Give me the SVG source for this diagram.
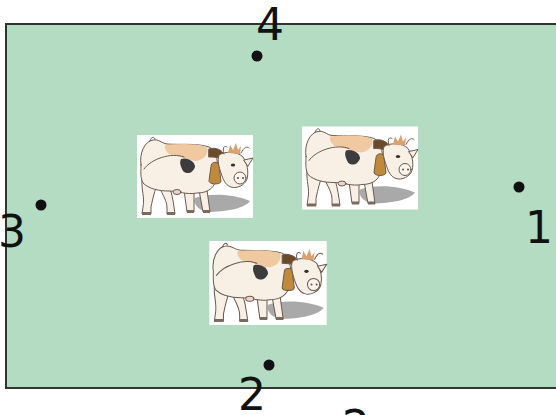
<svg xmlns="http://www.w3.org/2000/svg" xmlns:xlink="http://www.w3.org/1999/xlink" width="556" height="415" viewBox="0 0 556 415">
<style>
.lbl{font-family:"DejaVu Sans","Liberation Sans",sans-serif;font-size:44px;fill:#111;text-anchor:middle}
.dot{fill:#111}
.ol{stroke:#6b5a50;stroke-width:1;stroke-linejoin:round;stroke-linecap:round}
.body{fill:#f8f0e4}
</style>
<defs>
<symbol id="cow" viewBox="0 0 116 83" overflow="visible">
<rect x="0" y="0" width="116" height="83" fill="#ffffff"/>
<path d="M58,63 C75,57 100,60 113,66 C108,73 90,77 70,77 C61,75 56,69 58,63 Z" fill="#a9a9a9"/>
<path class="ol body" d="M5,44 C4,55 8,62 6,72 L5,79 L14,79 L14,72 C16,62 18,55 20,50 Z"/>
<path class="ol body" d="M22,52 C26,60 30,66 30,73 L30,79 L38,79 L37,72 C36,64 34,56 32,50 Z"/>
<path class="ol body" d="M47,55 L50,77 L57,77 L57,57 Z"/>
<path class="ol body" d="M62,55 L66,77 L73,77 L70,55 Z"/>
<path fill="#7a6a60" d="M5,77 L14,77 L14,80 L5,80 Z M30,77 L38,77 L38,80 L30,80 Z M50,75 L57,75 L57,78 L50,78 Z M66,75 L73,75 L73,78 L66,78 Z"/>
<path class="ol body" d="M4,30 C2,18 8,6 16,5 C22,4 24,8 30,9 C45,10 60,8 72,12 C80,15 82,30 80,42 C78,52 72,58 60,58 C50,60 40,56 32,56 C22,56 12,54 6,48 C3,42 4,36 4,30 Z"/>
<path fill="#f0c9a0" d="M28,10 C42,9 58,8 70,12 C72,18 68,24 60,26 C50,26 44,20 34,20 C30,18 27,14 28,10 Z"/>
<path fill="#3c3c3c" d="M44,24 C50,22 58,26 58,32 C56,38 50,40 46,36 C44,32 42,28 44,24 Z"/>
<path class="ol" fill="none" d="M7,34 C14,24 34,17 47,22"/>
<path class="ol" fill="none" d="M13,6 C14,2 17,1 18,4"/>
<ellipse cx="40" cy="57" rx="4" ry="2.5" fill="#f3d2c6" class="ol"/>
<path class="ol" fill="#6b4a2a" d="M72,14 C76,12 84,14 86,18 L84,24 C80,22 76,22 72,22 Z"/>
<path class="ol" fill="#c08a3a" d="M74,31 C74,26 82,26 82,31 L84,46 C84,50 72,50 72,46 Z"/>
<path class="ol body" d="M82,20 C88,16 100,16 106,22 C110,28 112,36 110,44 C108,50 100,54 94,52 C88,50 86,44 84,38 C82,32 80,26 82,20 Z"/>
<path class="ol body" d="M107,25 L116,23 L111,31 Z"/>
<path class="ol" fill="none" d="M87,19 C85,13 87,10 90,12 M104,18 C107,12 110,11 112,13"/>
<path fill="#d9a070" d="M91,18 L93,10 L96,15 L99,8 L101,15 L104,11 L103,19 Z"/>
<ellipse cx="103" cy="43" rx="6" ry="6" class="ol" fill="#fbf3ec"/>
<circle cx="101" cy="43" r="1" fill="#555"/>
<circle cx="106" cy="43" r="1" fill="#555"/>
<ellipse cx="96" cy="30" rx="2.2" ry="1.6" fill="#333"/>
</symbol>
</defs>
<g id="field">
<rect x="6" y="24" width="560" height="364" fill="#b3dcc2" stroke="#333" stroke-width="2"/>
</g>
<g id="connectors"></g>
<g id="cow1"><use xlink:href="#cow" href="#cow" x="137" y="135" width="116" height="83"/></g>
<g id="cow2"><use xlink:href="#cow" href="#cow" x="302" y="126" width="116" height="84"/></g>
<g id="cow3"><use xlink:href="#cow" href="#cow" x="209" y="241" width="118" height="84"/></g>
<g id="point1"><circle class="dot" cx="519" cy="187" r="5.5"/><text class="lbl" x="539" y="243">1</text></g>
<g id="point2"><circle class="dot" cx="269" cy="365" r="5.5"/><text class="lbl" x="252" y="410">2</text></g>
<g id="point3"><circle class="dot" cx="41" cy="205" r="5.5"/><text class="lbl" x="12" y="247">3</text></g>
<g id="point4"><circle class="dot" cx="257" cy="56" r="5.5"/><text class="lbl" x="270" y="40">4</text></g>
<g id="cut"><text class="lbl" x="356" y="442">2</text></g>
</svg>
